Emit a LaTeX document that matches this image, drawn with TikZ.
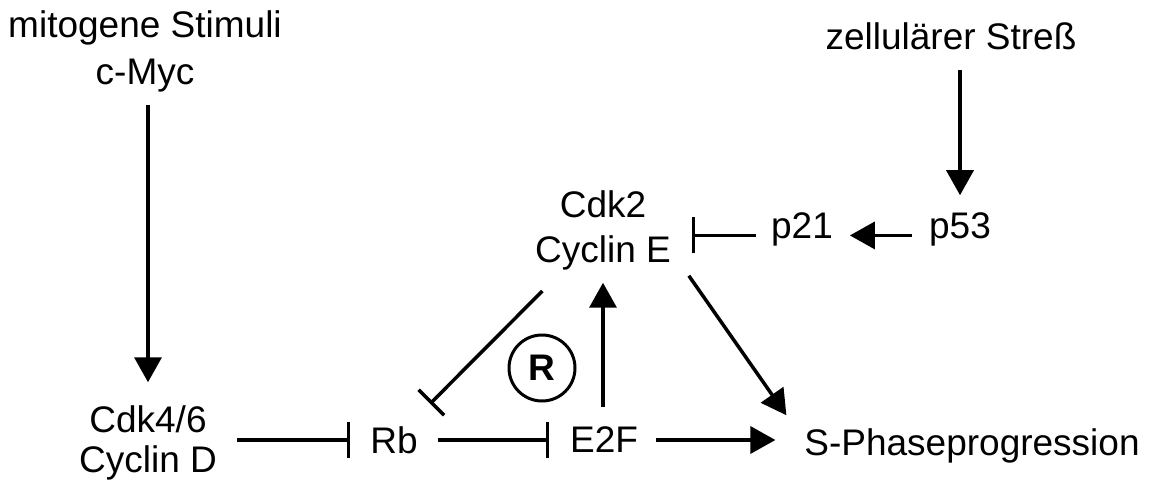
\documentclass[tikz,border=0pt]{standalone}
\usepackage{fontspec}
\setmainfont{Liberation Sans}
\usetikzlibrary{arrows.meta,calc}

\begin{document}
\begin{tikzpicture}[x=1pt,y=-1pt,line width=3.5pt,
  txt/.style={inner sep=0pt,outer sep=0pt,align=center,font=\fontsize{37}{43}\selectfont},
  act/.style={-{Triangle[length=25pt,width=27pt]}},
  inh/.style={-{Bar[width=36pt]}}]
\useasboundingbox (0,0) rectangle (1155,481);
\node[txt,font=\fontsize{37}{47}\selectfont] (mito) at (145,51) {mitogene Stimuli\\c-Myc};
\node[txt,font=\fontsize{37}{40}\selectfont] (cdk46) at (148,442.5) {Cdk4/6\\Cyclin D};
\node[txt] (rb) at (394,440) {Rb};
\node[txt] (e2f) at (604,440) {E2F};
\node[txt] (sphase) at (972,445.5) {S-Phaseprogression};
\node[txt,font=\fontsize{37}{45}\selectfont] (cdk2) at (603,230) {Cdk2\\Cyclin E};
\node[txt] (p21) at (802,229) {p21};
\node[txt] (p53) at (960,229) {p53};
\node[txt] (stress) at (951,36.5) {zellulärer Streß};
\node[draw,circle,line width=3pt,minimum size=66pt,inner sep=0pt,font=\fontsize{37}{43}\selectfont\bfseries] (restr) at (542,368) {R};
\draw[act,shorten <=13pt,shorten >=23pt] (mito.south -| cdk46.north) -- (cdk46.north);
\draw[inh,shorten <=20pt,shorten >=20pt] (cdk46.east |- rb.west) -- (rb.west);
\draw[inh,shorten <=20pt,shorten >=21pt] (rb.east) -- (e2f.west);
\draw[act,shorten <=18pt,shorten >=29pt] (e2f.east) -- (e2f.east -| sphase.west);
\draw[act,shorten <=20pt,shorten >=13pt] (e2f.north -| cdk2.south) -- (cdk2.south);
\draw[inh,shorten <=30pt,shorten >=32pt] (cdk2) -- (rb);
\draw[act] ($(cdk2.south east)+(18,6)$) -- ($(sphase.north west)+(-18,-13)$);
\draw[act,shorten <=17pt,shorten >=17pt] (p53.mid west) -- (p21.mid east);
\draw[inh,shorten <=15pt,shorten >=21pt] (p21.mid west) -- (p21.mid west -| cdk2.east);
\draw[act,shorten <=20pt,shorten >=17pt] (stress.south -| p53.north) -- (p53.north);
\end{tikzpicture}
\end{document}
